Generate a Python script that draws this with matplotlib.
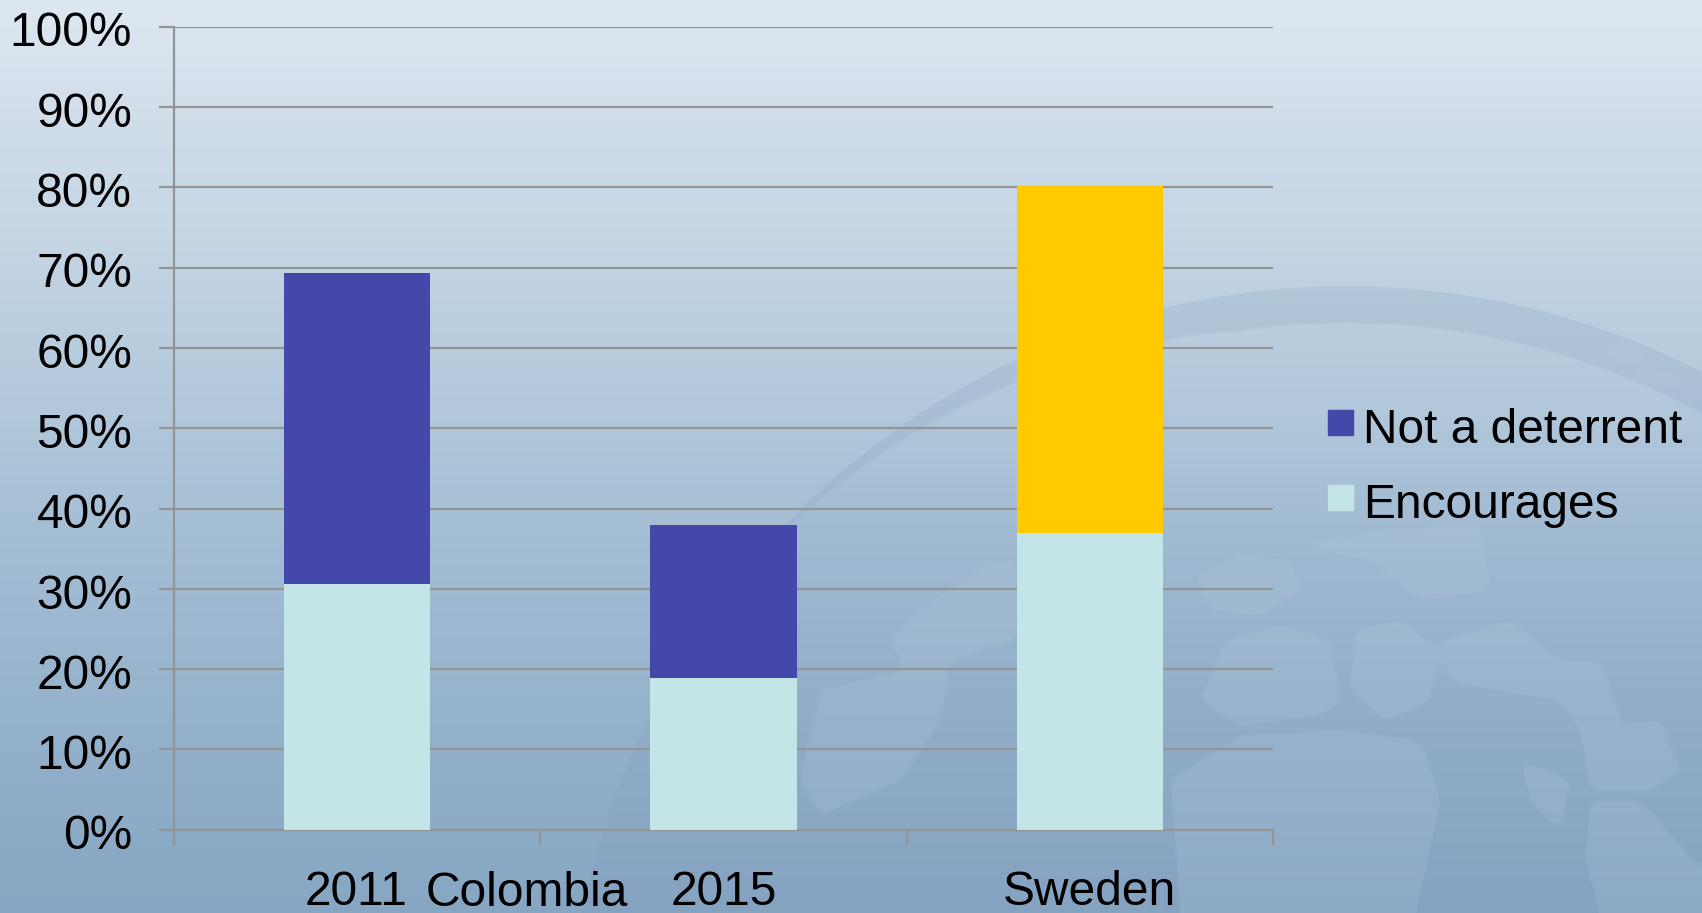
import numpy as np
import matplotlib
matplotlib.use("Agg")
import matplotlib.pyplot as plt
from matplotlib.transforms import ScaledTranslation
from matplotlib.patches import Patch, Rectangle
from matplotlib.path import Path
from matplotlib.legend_handler import HandlerPatch

plt.rcParams['font.family'] = ['Liberation Sans', 'DejaVu Sans']

categories = ["2011", "2015", "Sweden"]
encourages = [30.6, 18.9, 36.9]
not_deterrent = [38.7, 19.0, 43.2]
top_colors = ["#4348A9", "#4348A9", "#FFCB00"]
yticks = list(range(0, 101, 10))

W, H = 1702, 913
FS = 34.5
fig = plt.figure(figsize=(W/100, H/100), dpi=100)

# background: vertical gradient with a faint globe watermark
bg = fig.add_axes([0, 0, 1, 1], zorder=0)
yy, xx = np.mgrid[0:H, 0:W]
t = yy / (H - 1)
stops_t = [0, 0.35, 0.6, 1]
stops_c = np.array([[0xDD, 0xE7, 0xF0], [0xBC, 0xCF, 0xE0], [0xA3, 0xBD, 0xD4], [0x86, 0xA6, 0xC3]], float)
img = np.dstack([np.interp(t, stops_t, stops_c[:, i]) for i in range(3)])
cx, cy, R = 1346, 1065, 780
r = np.hypot(xx - cx, yy - cy)
thick = 4 + 32 * np.clip((xx - 800) / 440, 0, 1)
inside = np.clip((R - r) / 1.5, 0, 1)
inner = np.clip((R - thick - r) / 3, 0, 1) * np.clip((720 - yy) / 300, 0, 1)
dark = (inside - inner * 0.95)[..., None]
target = np.array([0x7F, 0x98, 0xB8], float)
img = img * (1 - 0.2 * dark) + target * 0.2 * dark

land = [
    [(1195, 575), (1240, 555), (1290, 560), (1300, 590), (1260, 615), (1210, 610)],
    [(1225, 640), (1280, 625), (1330, 640), (1340, 700), (1320, 715), (1240, 725), (1200, 700)],
    [(1290, 545), (1390, 530), (1480, 525), (1490, 590), (1420, 600), (1370, 560)],
    [(1355, 630), (1400, 620), (1440, 650), (1430, 700), (1385, 720), (1350, 690)],
    [(1440, 640), (1510, 620), (1560, 660), (1600, 660), (1620, 720), (1600, 760), (1560, 700), (1500, 690), (1450, 680)],
    [(1580, 730), (1660, 720), (1680, 770), (1650, 790), (1590, 790)],
    [(1520, 760), (1570, 780), (1560, 830), (1530, 800)],
    [(1240, 735), (1340, 730), (1420, 740), (1440, 800), (1415, 913), (1180, 913), (1170, 780)],
    [(1590, 800), (1640, 800), (1702, 870), (1702, 913), (1600, 913), (1585, 860)],
    [(820, 690), (905, 670), (890, 640), (920, 610), (990, 560), (1016, 560), (1016, 640), (950, 660), (940, 720), (900, 780), (820, 815), (800, 780)],
    [(1600, 340), (1640, 345), (1650, 365), (1610, 360)],
    [(1630, 365), (1680, 375), (1690, 385), (1640, 385)],
    [(1100, 380), (1120, 370), (1100, 400), (1090, 430), (1075, 420)],
]
grid = np.column_stack([xx.ravel(), yy.ravel()])
mask = np.zeros((H, W))
for pts in land:
    mask = np.maximum(mask, Path(pts + [pts[0]]).contains_points(grid).reshape(H, W).astype(float))

def box_blur(a, k):
    for axis in (0, 1):
        c = np.cumsum(np.insert(a, 0, 0, axis=axis), axis=axis)
        n = a.shape[axis]
        hi = np.minimum(np.arange(n) + k + 1, n)
        lo = np.maximum(np.arange(n) - k, 0)
        a = (np.take(c, hi, axis=axis) - np.take(c, lo, axis=axis)) / (hi - lo).reshape((-1, 1) if axis == 0 else (1, -1))
    return a

soft = box_blur(box_blur(mask, 6), 6)
soft = np.clip((soft - 0.4) / 0.2, 0, 1)[..., None]
light = np.array([0xB4, 0xCA, 0xDD], float)
img = img * (1 - 0.2 * soft) + light * 0.2 * soft

bg.imshow(img / 255, extent=[0, W, H, 0], aspect='auto', interpolation='bilinear', zorder=0)
bg.set_xlim(0, W); bg.set_ylim(H, 0); bg.axis('off')

ax = fig.add_axes([174/W, 1-829.7/H, (1273-174)/W, 803/H], zorder=1)
ax.patch.set_alpha(0)
x = np.arange(3)
ax.bar(x, encourages, width=0.4, color="#C3E5E7", zorder=3)
ax.bar(x, not_deterrent, width=0.4, bottom=encourages, color=top_colors, zorder=3)
ax.set_xlim(-0.5, 2.5); ax.set_ylim(0, 100)
ax.set_yticks(yticks)
ax.set_yticklabels([f"{v}%" for v in yticks], fontsize=FS, color='black')
ax.set_xticks([-0.5, 0.5, 1.5, 2.5])
ax.set_xticklabels([])
for xv, lab in zip(x, categories):
    dx = -1 if lab == "2011" else 0
    ax.annotate(lab, (xv, 0), xytext=(dx, -63*0.72), textcoords='offset points', ha='center', va='center', fontsize=FS)
ax.annotate("Colombia", (0.5, 0), xytext=(-12.5*1.0855*0.72, -64*0.72), textcoords='offset points', ha='center', va='center', fontsize=FS, annotation_clip=False)
ax.grid(axis='y', color="#949494", lw=1.6, zorder=1)
ax.tick_params(axis='both', color="#949494", width=1.6, length=11)
ax.tick_params(axis='y', pad=19)
shift = ScaledTranslation(0, -1.6/72, fig.dpi_scale_trans)
for lab in ax.get_yticklabels():
    lab.set_transform(lab.get_transform() + shift)
for s in ['top', 'right']:
    ax.spines[s].set_visible(False)
for s in ['left', 'bottom']:
    ax.spines[s].set_color("#949494"); ax.spines[s].set_linewidth(1.6)

def square(legend, orig_handle, xdescent, ydescent, width, height, fontsize):
    return Rectangle((-xdescent, 6), width, width)

handles = [Patch(color="#4348A9"), Patch(color="#C3E5E7")]
leg = ax.legend(handles, ["Not a deterrent", "Encourages"], loc='upper left',
                bbox_to_anchor=(1328/W, 1-408.3/H), bbox_transform=fig.transFigure,
                handler_map={Patch: HandlerPatch(patch_func=square)},
                frameon=False, fontsize=FS, handlelength=0.52, handleheight=0.52,
                handletextpad=0.21, labelspacing=0.62, borderpad=0, borderaxespad=0)
leg.set_zorder(5)
fig.savefig("out.png", dpi=100)
